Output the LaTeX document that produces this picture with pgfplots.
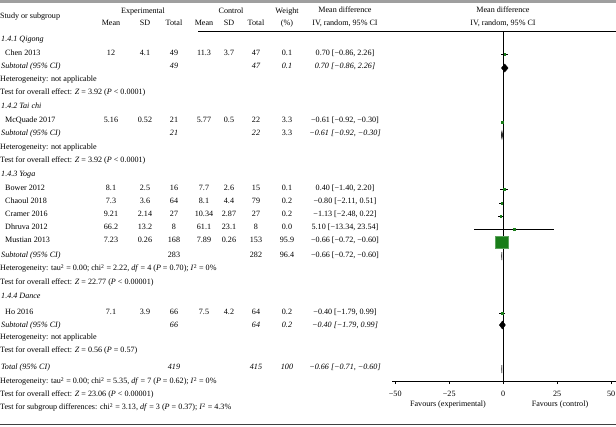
\documentclass[border=0pt]{standalone}
\usepackage{pgfplots}
\pgfplotsset{compat=1.18}
\usepackage{fontspec}
\setmainfont{Liberation Serif}
\definecolor{fgreen}{RGB}{25,125,25}
\newcommand{\fs}{\fontsize{8.1}{9.5}\selectfont}
% left-aligned text
\newcommand{\tl}[3]{\node[anchor=mid west] at (#1,#2) {#3};}
% centred text
\newcommand{\tc}[3]{\node[anchor=mid] at (#1,#2) {#3};}
% data row: y, m1, sd1, n1, m2, sd2, n2, w, md
\newcommand{\drow}[9]{%
  \tc{111}{#1}{#2}\tc{145}{#1}{#3}\tc{174}{#1}{#4}%
  \tc{204}{#1}{#5}\tc{229}{#1}{#6}\tc{256}{#1}{#7}%
  \tc{287}{#1}{#8}\tc{345}{#1}{#9}}
% subtotal row: y, n1, n2, w, md
\newcommand{\srow}[5]{%
  \tc{174}{#1}{#2}\tc{256}{#1}{#3}\tc{287}{#1}{#4}\tc{345}{#1}{#5}}
\begin{document}
\fs
\begin{tikzpicture}[x=1pt,y=-1pt,every node/.style={inner sep=0pt,font=\fs}]
\useasboundingbox (0,0) rectangle (616,426);
% borders
\draw[line width=2.2pt,gray!75] (0,1.5) -- (616,1.5);
\draw[line width=1.8pt,black!75] (0,424.5) -- (616,424.5);
\draw[line width=0.6pt] (198,31) -- (616,31);
% header
\tl{0}{17}{Study or subgroup}
\tc{143}{12}{Experimental}
\tc{231}{12}{Control}
\tc{287}{12}{Weight}
\tc{345}{11}{Mean difference}
\tc{503}{11}{Mean difference}
\tc{111}{24}{Mean}\tc{145}{24}{SD}\tc{174}{24}{Total}
\tc{204}{24}{Mean}\tc{229}{24}{SD}\tc{256}{24}{Total}
\tc{287}{24}{(\%)}
\tc{345}{24}{IV, random, 95\% CI}
\tc{503}{24}{IV, random, 95\% CI}
% Qigong
\tl{1}{40}{\itshape 1.4.1 Qigong}
\tl{5}{54}{Chen 2013}
\drow{54}{12}{4.1}{49}{11.3}{3.7}{47}{0.1}{0.70 [−0.86, 2.26]}
\tl{1}{67}{\itshape Subtotal (95\% CI)}
\srow{67}{\itshape 49}{\itshape 47}{\itshape 0.1}{\itshape 0.70 [−0.86, 2.26]}
\tl{0}{80}{Heterogeneity: not applicable}
\tl{0}{93}{Test for overall effect: \textit{Z} = 3.92 (\textit{P} < 0.0001)}
% Tai chi
\tl{1}{107}{\itshape 1.4.2 Tai chi}
\tl{5}{121}{McQuade 2017}
\drow{121}{5.16}{0.52}{21}{5.77}{0.5}{22}{3.3}{−0.61 [−0.92, −0.30]}
\tl{1}{134}{\itshape Subtotal (95\% CI)}
\srow{134}{\itshape 21}{\itshape 22}{3.3}{\itshape −0.61 [−0.92, −0.30]}
\tl{0}{148}{Heterogeneity: not applicable}
\tl{0}{161}{Test for overall effect: \textit{Z} = 3.92 (\textit{P} < 0.0001)}
% Yoga
\tl{1}{175}{\itshape 1.4.3 Yoga}
\tl{5}{189}{Bower 2012}
\drow{189}{8.1}{2.5}{16}{7.7}{2.6}{15}{0.1}{0.40 [−1.40, 2.20]}
\tl{5}{202}{Chaoul 2018}
\drow{202}{7.3}{3.6}{64}{8.1}{4.4}{79}{0.2}{−0.80 [−2.11, 0.51]}
\tl{5}{215}{Cramer 2016}
\drow{215}{9.21}{2.14}{27}{10.34}{2.87}{27}{0.2}{−1.13 [−2.48, 0.22]}
\tl{5}{228}{Dhruva 2012}
\drow{228}{66.2}{13.2}{8}{61.1}{23.1}{8}{0.0}{5.10 [−13.34, 23.54]}
\tl{5}{241}{Mustian 2013}
\drow{241}{7.23}{0.26}{168}{7.89}{0.26}{153}{95.9}{−0.66 [−0.72, −0.60]}
\tl{1}{256}{\itshape Subtotal (95\% CI)}
\srow{256}{283}{282}{96.4}{−0.66 [−0.72, −0.60]}
\tl{0}{269}{Heterogeneity: tau\textsuperscript{2} = 0.00; chi\textsuperscript{2} = 2.22, \textit{df} = 4 (\textit{P} = 0.70); \textit{I}\textsuperscript{2} = 0\%}
\tl{0}{283}{Test for overall effect: \textit{Z} = 22.77 (\textit{P} < 0.00001)}
% Dance
\tl{1}{297}{\itshape 1.4.4 Dance}
\tl{5}{313}{Ho 2016}
\drow{313}{7.1}{3.9}{66}{7.5}{4.2}{64}{0.2}{−0.40 [−1.79, 0.99]}
\tl{1}{326}{\itshape Subtotal (95\% CI)}
\srow{326}{\itshape 66}{\itshape 64}{\itshape 0.2}{\itshape −0.40 [−1.79, 0.99]}
\tl{0}{338}{Heterogeneity: not applicable}
\tl{0}{351}{Test for overall effect: \textit{Z} = 0.56 (\textit{P} = 0.57)}
% Total
\tl{1}{368}{\itshape Total (95\% CI)}
\srow{368}{\itshape 419}{\itshape 415}{\itshape 100}{\itshape −0.66 [−0.71, −0.60]}
\tl{0}{382}{Heterogeneity: tau\textsuperscript{2} = 0.00; chi\textsuperscript{2} = 5.35, \textit{df} = 7 (\textit{P} = 0.62); \textit{I}\textsuperscript{2} = 0\%}
\tl{0}{395}{Test for overall effect: \textit{Z} = 23.06 (\textit{P} < 0.00001)}
\tl{0}{408}{Test for subgroup differences: chi\textsuperscript{2} = 3.13, \textit{df} = 3 (\textit{P} = 0.37); \textit{I}\textsuperscript{2} = 4.3\%}
% favours
\tc{448}{405}{Favours (experimental)}
\tc{560}{405}{Favours (control)}
% forest plot
\begin{axis}[at={(392pt,-381pt)},anchor=south west,scale only axis,
  width=224pt,height=350pt,xmin=-51.5,xmax=52.2,ymin=31,ymax=381,
  y dir=reverse,axis x line*=bottom,axis y line=none,clip=false,
  xtick={-50,-25,0,25,50},xticklabels={−50,−25,0,25,50},
  tick align=outside,major tick length=3pt,
  every tick/.style={black,line width=0.5pt},
  axis line style={line width=0.6pt},
  xticklabel style={font=\fs,yshift=-7pt}]
\addplot[black,line width=0.6pt] coordinates {(0,31) (0,381)};
% confidence intervals
\addplot[draw=none,mark=none,error bars/.cd,x dir=both,x explicit,
  error mark=none,error bar style={black,line width=0.5pt}]
  coordinates {
  (0.70,54) +- (1.56,0)
  (-0.61,122) +- (0.31,0)
  (0.40,189) +- (1.80,0)
  (-0.80,203) +- (1.31,0)
  (-1.13,216) +- (1.35,0)
  (5.10,229) +- (18.44,0)
  (-0.66,242) +- (0.06,0)
  (-0.40,313) +- (1.39,0)
  };
% study squares (size by weight)
\addplot[only marks,mark=square*,mark size=0.7pt,fgreen,mark options={fill=fgreen,draw=fgreen}] coordinates {(0.70,54) (0.40,189) (-0.80,203) (-1.13,216) (5.10,229) (-0.40,313)};
\addplot[only marks,mark=square*,mark size=1.1pt,fgreen,mark options={fill=fgreen,draw=fgreen}] coordinates {(-0.61,122)};
\addplot[only marks,mark=square*,mark size=6.2pt,fgreen,mark options={fill=fgreen,draw=fgreen!70}] coordinates {(-0.66,242)};
% pooled diamonds
\addplot[fill=black,draw=black] coordinates {(-0.86,68) (0.70,64) (2.26,68) (0.70,72)} -- cycle;
\addplot[fill=black,draw=black] coordinates {(-0.92,135) (-0.61,131) (-0.30,135) (-0.61,139)} -- cycle;
\addplot[fill=black,draw=black] coordinates {(-0.72,256) (-0.66,252) (-0.60,256) (-0.66,260)} -- cycle;
\addplot[fill=black,draw=black] coordinates {(-1.79,325) (-0.40,321) (0.99,325) (-0.40,329)} -- cycle;
\addplot[fill=black,draw=black] coordinates {(-0.71,369) (-0.66,365) (-0.60,369) (-0.66,373)} -- cycle;
\end{axis}
\end{tikzpicture}
\end{document}
